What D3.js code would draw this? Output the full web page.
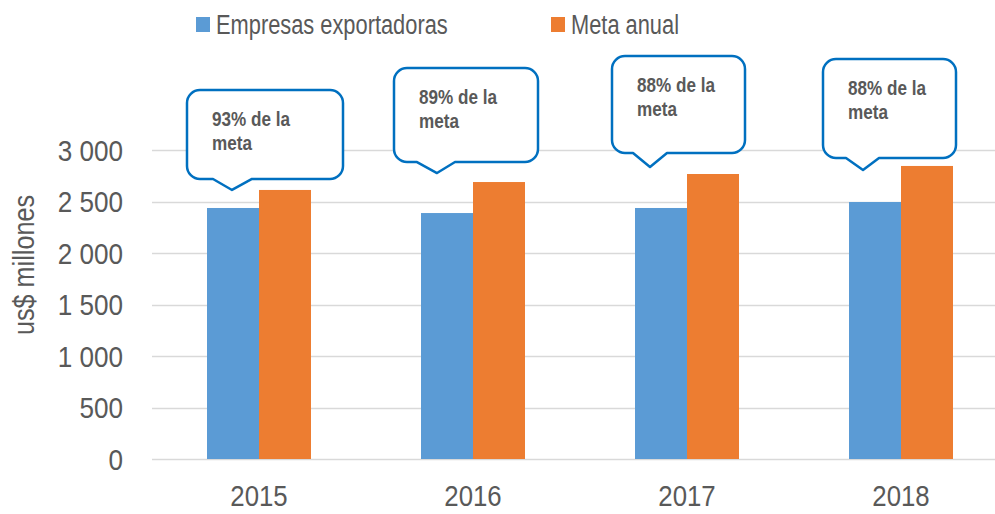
<!DOCTYPE html>
<html>
<head>
<meta charset="utf-8">
<script src="https://cdn.jsdelivr.net/npm/d3@7"></script>
<style>
  body { margin: 0; background: #fff; }
  svg { display: block; font-family: "Liberation Sans", Arial, sans-serif; }
</style>
</head>
<body>
<div id="chart"></div>
<script>
const years = ["2015", "2016", "2017", "2018"];
const empresas = [2437, 2388, 2437, 2495];
const meta = [2612, 2689, 2767, 2845];
const seriesNames = ["Empresas exportadoras", "Meta anual"];
const calloutLabels = ["93% de la meta", "89% de la meta", "88% de la meta", "88% de la meta"];
const yTicks = [0, 500, 1000, 1500, 2000, 2500, 3000];

// callout placement, relative to bars (pixels)
const calloutLayout = [
  {dx: -1, dy: 0, left: -45, right: 111, top: -100, bottom: -11, b1: -19, b2: 20},
  {dx: -10, dy: -9, left: -43, right: 101, top: -105, bottom: -11, b1: -20, b2: 18},
  {dx: -11, dy: -7, left: -38, right: 95, top: -111, bottom: -14, b1: -17, b2: 17},
  {dx: -12, dy: 4, left: -40, right: 93, top: -111, bottom: -12, b1: -17, b2: 16}
];

const W = 995, H = 514;
const margin = {top: 150, right: 0, bottom: 55, left: 152};
const colors = ["#5B9BD5", "#ED7D31"];
const textColor = "#595959";

// narrow look: Arial Narrow is not available, so squeeze Liberation Sans
function place(px, py, sx) {
  return "translate(" + px + "," + py + ") scale(" + sx + ",1)";
}

const svg = d3.select("#chart").append("svg")
  .attr("width", W)
  .attr("height", H);

const x = d3.scaleBand()
  .domain(years)
  .range([margin.left, margin.left + 4 * 214])
  .padding(0);

const x1 = d3.scaleBand()
  .domain([0, 1])
  .range([x.bandwidth() / 2 - 52, x.bandwidth() / 2 + 52]);

const y = d3.scaleLinear()
  .domain([0, 3000])
  .range([459, 150]);

// gridlines
svg.append("g")
  .selectAll("line")
  .data(yTicks)
  .enter().append("line")
  .attr("x1", margin.left)
  .attr("x2", W)
  .attr("y1", d => Math.round(y(d)) + 0.5)
  .attr("y2", d => Math.round(y(d)) + 0.5)
  .attr("stroke", "#d9d9d9")
  .attr("stroke-width", 1.5);

// y labels
svg.append("g")
  .selectAll("text")
  .data(yTicks)
  .enter().append("text")
  .attr("transform", d => place(123, y(d), 0.87))
  .attr("dy", "0.36em")
  .attr("text-anchor", "end")
  .attr("font-size", 30)
  .attr("fill", textColor)
  .text(d => d3.format(",")(d).replace(/,/g, " "));

svg.append("text")
  .attr("transform", "translate(34,265) rotate(-90) scale(0.84,1)")
  .attr("text-anchor", "middle")
  .attr("font-size", 30)
  .attr("fill", textColor)
  .text("us$ millones");

// bars
const values = [empresas, meta];
const groups = svg.append("g")
  .selectAll("g")
  .data(years)
  .enter().append("g")
  .attr("transform", d => "translate(" + x(d) + ",0)");

groups.selectAll("rect")
  .data((d, i) => [0, 1].map(s => ({s: s, v: values[s][i]})))
  .enter().append("rect")
  .attr("x", d => x1(d.s))
  .attr("width", x1.bandwidth())
  .attr("y", d => y(d.v))
  .attr("height", d => y(0) - y(d.v))
  .attr("fill", d => colors[d.s]);

// x labels
svg.append("g")
  .selectAll("text")
  .data(years)
  .enter().append("text")
  .attr("transform", d => place(x(d) + x.bandwidth() / 2, 506, 0.86))
  .attr("text-anchor", "middle")
  .attr("font-size", 30)
  .attr("fill", textColor)
  .text(d => d);

// legend
const legend = svg.append("g");
const legendX = [196, 551];
seriesNames.forEach((name, i) => {
  legend.append("rect")
    .attr("x", legendX[i])
    .attr("y", 17)
    .attr("width", 14)
    .attr("height", 15)
    .attr("fill", colors[i]);
  legend.append("text")
    .attr("transform", place(legendX[i] + 20, 34, 0.78))
    .attr("font-size", 28)
    .attr("fill", textColor)
    .text(name);
});

// callouts
function calloutPath(tx, ty, c) {
  const L = tx + c.left, R = tx + c.right, T = ty + c.top, B = ty + c.bottom, r = 13;
  const p = d3.path();
  p.moveTo(L + r, T);
  p.lineTo(R - r, T);
  p.arcTo(R, T, R, T + r, r);
  p.lineTo(R, B - r);
  p.arcTo(R, B, R - r, B, r);
  p.lineTo(tx + c.b2, B);
  p.lineTo(tx, ty);
  p.lineTo(tx + c.b1, B);
  p.lineTo(L + r, B);
  p.arcTo(L, B, L, B - r, r);
  p.lineTo(L, T + r);
  p.arcTo(L, T, L + r, T, r);
  p.closePath();
  return p.toString();
}

const callouts = svg.append("g")
  .selectAll("g")
  .data(years)
  .enter().append("g");

callouts.each(function(d, i) {
  const c = calloutLayout[i];
  const tx = x(d) + x1(0) + x1.bandwidth() / 2 + c.dx;
  const ty = y(meta[i]) + c.dy;
  const g = d3.select(this);
  g.append("path")
    .attr("d", calloutPath(tx, ty, c))
    .attr("fill", "#fff")
    .attr("stroke", "#0070C0")
    .attr("stroke-width", 2.5)
    .attr("stroke-linejoin", "round");
  const words = calloutLabels[i].split(" ");
  const t = g.append("text")
    .attr("transform", place(tx + c.left + 25, ty + c.top, 0.835))
    .attr("font-size", 20.5)
    .attr("font-weight", "bold")
    .attr("fill", textColor);
  t.append("tspan")
    .attr("x", 0)
    .attr("y", 36)
    .text(words.slice(0, 3).join(" "));
  t.append("tspan")
    .attr("x", 0)
    .attr("y", 60)
    .text(words.slice(3).join(" "));
});
</script>
</body>
</html>
